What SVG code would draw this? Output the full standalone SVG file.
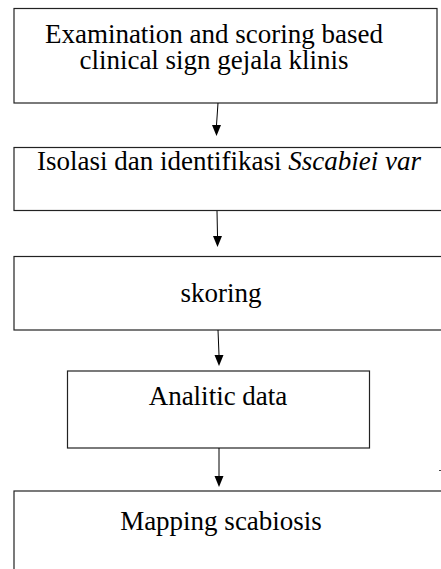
<svg xmlns="http://www.w3.org/2000/svg" width="441" height="569" viewBox="0 0 441 569">
<style>
.box{fill:#fff;stroke:#222;stroke-width:1.2}
.t{font-family:"Liberation Serif","Times New Roman",serif;font-size:27px;fill:#000;text-anchor:middle}
.c{stroke:#000;stroke-width:1;fill:none}
</style>
<defs>
<marker id="ah" markerWidth="9" markerHeight="11" refX="4.5" refY="11" orient="auto-start-reverse" markerUnits="userSpaceOnUse" viewBox="0 0 9 11">
<path d="M0,0 L9,0 L4.5,11 Z" fill="#000" transform="rotate(0)"/>
</marker>
</defs>
<rect width="441" height="569" fill="#fff"/>
<g id="n1"><rect class="box" x="14" y="8.5" width="423" height="94.5"/>
<text class="t" x="214" y="42.5">Examination and scoring based</text>
<text class="t" x="214" y="69">clinical sign gejala klinis</text></g>
<g id="n2"><rect class="box" x="14" y="147.5" width="440" height="63"/>
<text class="t" x="229" y="169.5">Isolasi dan identifikasi <tspan font-style="italic">Sscabiei var</tspan></text></g>
<g id="n3"><rect class="box" x="14" y="256.5" width="440" height="73.5"/>
<text class="t" x="221" y="302">skoring</text></g>
<g id="n4"><rect class="box" x="67.5" y="371" width="302" height="77"/>
<text class="t" x="218" y="405">Analitic data</text></g>
<g id="n5"><rect class="box" x="14" y="491" width="440" height="90"/>
<text class="t" x="221" y="530">Mapping scabiosis</text></g>
<g id="connectors">
<line class="c" x1="218" y1="103" x2="216.5" y2="125"/>
<path d="M212,125 L221,125 L216.5,136 Z" fill="#000"/>
<line class="c" x1="217" y1="211" x2="217.5" y2="236"/>
<path d="M213,236 L222,236 L217.5,247 Z" fill="#000"/>
<line class="c" x1="218" y1="330" x2="219" y2="355"/>
<path d="M214.5,355 L223.5,355 L219,366 Z" fill="#000"/>
<line class="c" x1="219" y1="448" x2="219" y2="476"/>
<path d="M214.5,476 L223.5,476 L219,487 Z" fill="#000"/>
<line x1="439" y1="470.5" x2="441" y2="470.5" stroke="#444" stroke-width="1"/>
</g>
</svg>
